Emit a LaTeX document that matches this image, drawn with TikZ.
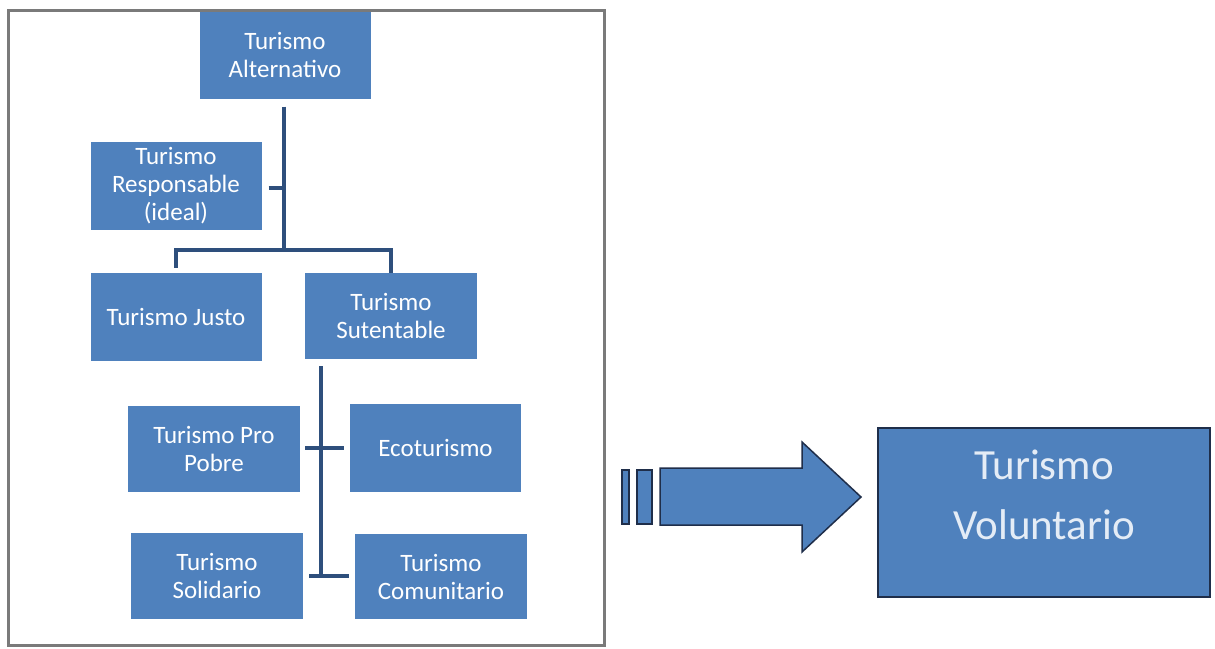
\documentclass[tikz,border=0pt]{standalone}
\usepackage{fontspec}
\setmainfont{Carlito}
\definecolor{boxblue}{HTML}{4F81BD}
\definecolor{linkblue}{HTML}{2E4F7C}
\definecolor{arrowline}{HTML}{1F2E4A}
\definecolor{framegray}{HTML}{7A7A7A}
\definecolor{paletext}{HTML}{E4ECF6}
\begin{document}
\begin{tikzpicture}[x=1pt,y=-1pt,
  orgbox/.style={fill=boxblue, text=white, align=center, inner sep=2pt,
    minimum width=171pt, minimum height=87pt,
    font=\fontsize{25}{28}\selectfont},
  link/.style={draw=linkblue, line width=3.5pt},
  bigbox/.style={fill=boxblue, draw=arrowline, line width=1.5pt, text=paletext,
    align=center, minimum width=332pt, minimum height=169pt,
    font=\fontsize{43}{60}\selectfont},
  blockarrow/.style={fill=boxblue, draw=arrowline, line width=1.5pt, line join=miter}
]
\useasboundingbox (0,0) rectangle (1215,648);
\fill[white] (0,0) rectangle (1215,648);
% frame
\draw[framegray, line width=3pt] (8,10) rectangle (604,645);

% boxes
\node[orgbox] (alt) at (285,55) {Turismo\\Alternativo};
\node[orgbox, minimum height=88pt] (resp) at (176,186) {Turismo\\Responsable\\(ideal)};
\node[orgbox, minimum height=88pt] (justo) at (176,317) {Turismo Justo};
\node[orgbox, minimum width=172pt, minimum height=86pt] (sut) at (391,316) {Turismo\\Sutentable};
\node[orgbox, minimum width=172pt, minimum height=86pt] (pro) at (214,449) {Turismo Pro\\Pobre};
\node[orgbox, minimum height=88pt] (eco) at (435.5,448) {Ecoturismo};
\node[orgbox, minimum width=172pt, minimum height=86pt] (sol) at (217,576) {Turismo\\Solidario};
\node[orgbox, minimum width=172pt, minimum height=85pt] (com) at (441,576.5) {Turismo\\Comunitario};

% connector coordinates
\coordinate (bar) at (284,250);
\coordinate (spine) at (321,577);

% connectors
\draw[link, shorten <=8pt] (alt.south -| bar) -- (bar);
\draw[link, shorten <=7pt] (resp.east |- 0,188) -- (bar |- 0,188);
\draw[link, shorten <=5pt] (justo.north) -- (justo.north |- bar) -- (sut.north |- bar) -- (sut.north);
\draw[link, shorten <=7pt] (sut.south -| spine) -- (spine);
\draw[link, shorten <=5pt, shorten >=6pt] (pro.east |- 0,448) -- (eco.west);
\draw[link, shorten <=6pt, shorten >=6pt] (sol.east) -- (sol.east -| com.west);

% block arrow
\draw[blockarrow] (622,470) rectangle (629,524);
\draw[blockarrow] (637,470) rectangle (652,524);
\draw[blockarrow] (660,468) -- (802,468) -- (802,442) -- (861,497) -- (802,552) -- (802,525) -- (660,525) -- cycle;

% result box
\node[bigbox] (vol) at (1044,512.5) {Turismo\\Voluntario\rule[-36pt]{0pt}{1pt}};
\end{tikzpicture}
\end{document}
